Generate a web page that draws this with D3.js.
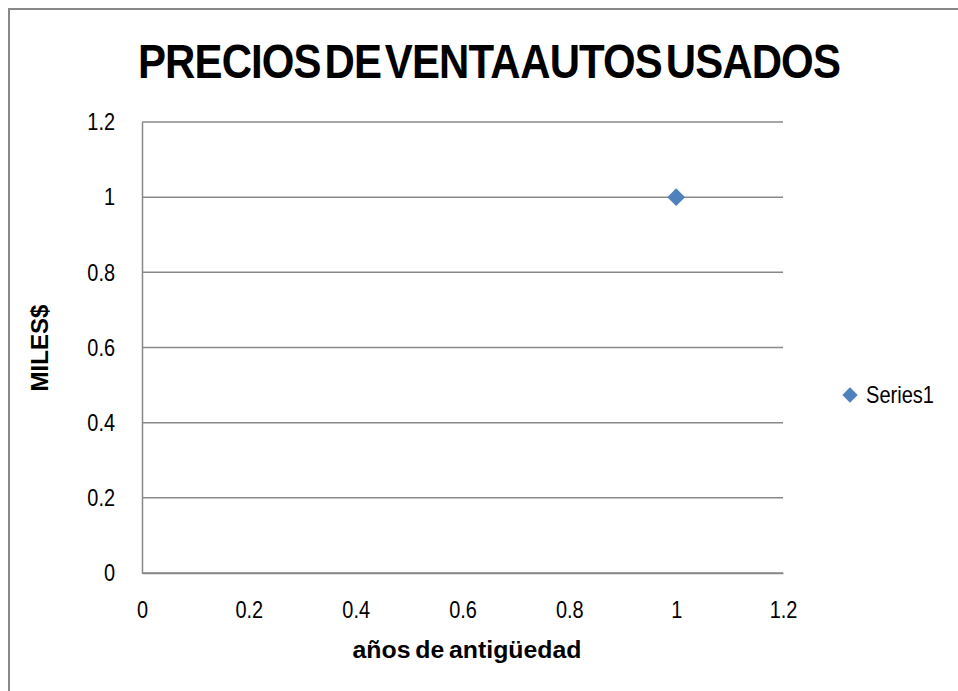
<!DOCTYPE html>
<html lang="es">
<head>
<meta charset="UTF-8">
<title>Precios de venta autos usados</title>
<script src="https://d3js.org/d3.v7.min.js"></script>
<style>
  body { margin: 0; background: #fff; }
  svg { display: block; }
  .tick text { font-family: "Liberation Sans", Arial, sans-serif; font-size: 24px; fill: #000; }
  .grid line { stroke: #888; stroke-width: 1.5; }
</style>
</head>
<body>
<script>
// datos
const xValues = [1];
const yValues = [1];
const seriesName = "Series1";
const xTicks = [0, 0.2, 0.4, 0.6, 0.8, 1, 1.2];
const yTicks = [0, 0.2, 0.4, 0.6, 0.8, 1, 1.2];

const width = 958, height = 691;
const plot = { left: 142, right: 783, top: 122, bottom: 573 };
const fmt = d => String(+d.toFixed(1));

const svg = d3.select("body").append("svg")
  .attr("width", width)
  .attr("height", height);

// borde del gráfico (sale por la derecha y abajo)
svg.append("rect")
  .attr("x", 9).attr("y", 9)
  .attr("width", 970).attr("height", 700)
  .attr("fill", "#fff")
  .attr("stroke", "#888")
  .attr("stroke-width", 2);

const x = d3.scaleLinear().domain([0, 1.2]).range([plot.left, plot.right]);
const y = d3.scaleLinear().domain([0, 1.2]).range([plot.bottom, plot.top]);

// rejilla horizontal
svg.append("g")
  .attr("class", "grid")
  .selectAll("line")
  .data(yTicks)
  .enter().append("line")
  .attr("x1", plot.left).attr("x2", plot.right)
  .attr("y1", d => y(d)).attr("y2", d => y(d));

// texto estrecho (tipo Arial Narrow)
function narrow(sel, k) {
  sel.each(function() {
    const w = this.getComputedTextLength();
    d3.select(this).attr("textLength", w * k).attr("lengthAdjust", "spacingAndGlyphs");
  });
}

// ejes
const yAxis = svg.append("g")
  .attr("transform", `translate(${plot.left},0)`)
  .call(d3.axisLeft(y).tickValues(yTicks).tickSize(0).tickPadding(27).tickFormat(fmt));
yAxis.select(".domain").attr("stroke", "#888").attr("stroke-width", 1.5);
yAxis.selectAll(".tick text").call(narrow, 0.83);

const xAxis = svg.append("g")
  .attr("transform", `translate(0,${plot.bottom})`)
  .call(d3.axisBottom(x).tickValues(xTicks).tickSize(0).tickPadding(28).tickFormat(fmt));
xAxis.select(".domain").attr("stroke", "#888").attr("stroke-width", 1.5);
xAxis.selectAll(".tick text").call(narrow, 0.83);

// puntos
const diamond = d3.symbol().type(d3.symbolDiamond2).size(200);
svg.selectAll(".pt")
  .data(xValues.map((v, i) => [v, yValues[i]]))
  .enter().append("path")
  .attr("class", "pt")
  .attr("d", diamond)
  .attr("transform", d => `translate(${x(d[0])},${y(d[1])})`)
  .attr("fill", "#4f81bd");

// título
svg.append("text")
  .attr("x", 489).attr("y", 78)
  .attr("text-anchor", "middle")
  .attr("textLength", 702)
  .attr("lengthAdjust", "spacingAndGlyphs")
  .style("font-family", "'Liberation Sans', Arial, sans-serif")
  .style("font-weight", "bold")
  .style("font-size", "48px")
  .style("letter-spacing", "-1px")
  .style("word-spacing", "-8px")
  .text("PRECIOS DE VENTA AUTOS USADOS");

// títulos de ejes
svg.append("text")
  .attr("transform", "translate(48,348) rotate(-90)")
  .attr("text-anchor", "middle")
  .attr("textLength", 87)
  .attr("lengthAdjust", "spacingAndGlyphs")
  .style("font-family", "'Liberation Sans', Arial, sans-serif")
  .style("font-weight", "bold")
  .style("font-size", "23px")
  .text("MILES$");

svg.append("text")
  .attr("x", 467).attr("y", 658)
  .attr("text-anchor", "middle")
  .attr("textLength", 229)
  .attr("lengthAdjust", "spacingAndGlyphs")
  .style("font-family", "'Liberation Sans', Arial, sans-serif")
  .style("font-weight", "bold")
  .style("font-size", "23px")
  .style("word-spacing", "-2px")
  .text("años de antigüedad");

// leyenda
svg.append("path")
  .attr("d", d3.symbol().type(d3.symbolDiamond2).size(150))
  .attr("transform", "translate(850,395)")
  .attr("fill", "#4f81bd");
svg.append("text")
  .attr("x", 866).attr("y", 403)
  .attr("textLength", 68)
  .attr("lengthAdjust", "spacingAndGlyphs")
  .style("font-family", "'Liberation Sans', Arial, sans-serif")
  .style("font-size", "24px")
  .text(seriesName);
</script>
</body>
</html>
